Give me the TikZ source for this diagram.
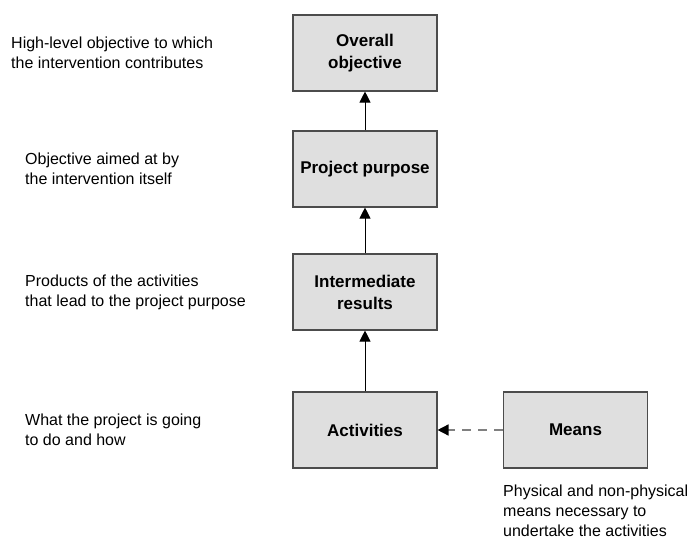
\documentclass[tikz,border=0pt]{standalone}
\usepackage{fontspec}
\setmainfont{Liberation Sans}
\usetikzlibrary{arrows.meta}
\begin{document}
\begin{tikzpicture}[x=1pt,y=-1pt,
  box/.style={draw=gray!60!black, line width=1.1pt, fill=gray!25, minimum width=144pt, minimum height=76pt, inner sep=0pt, align=center, font=\fontsize{17}{22}\selectfont\bfseries},
  note/.style={inner sep=0pt, align=left, anchor=west, font=\fontsize{16}{20}\selectfont},
  link/.style={draw=black, line width=0.9pt, -{Triangle[width=11pt,length=11pt]}},
  dlink/.style={draw=gray, line width=1.5pt, dash pattern=on 9pt off 7pt, -{Triangle[width=11pt,length=11pt,color=black]}}]
\useasboundingbox (0,0) rectangle (688,540);
\node[box] (ov) at (365,53) {Overall\\objective};
\node[box] (pp) at (365,169) {Project purpose};
\node[box] (ir) at (365,292) {Intermediate\\results};
\node[box] (ac) at (365,430) {Activities};
\node[box] (me) at (575.5,430) {Means};
\draw[link] (pp) -- (ov);
\draw[link] (ir) -- (pp);
\draw[link] (ac) -- (ir);
\draw[dlink] (me) -- (ac);
\node[note] (t1) at (11,53) {High-level objective to which\\the intervention contributes};
\node[note] (t2) at (25,169) {Objective aimed at by\\the intervention itself};
\node[note] (t3) at (25,292) {Products of the activities\\that lead to the project purpose};
\node[note] (t4) at (25,430) {What the project is going\\to do and how};
\node[note, anchor=north west] (t5) at (503,485) {Physical and non-physical\\means necessary to\\undertake the activities};
\end{tikzpicture}
\end{document}
